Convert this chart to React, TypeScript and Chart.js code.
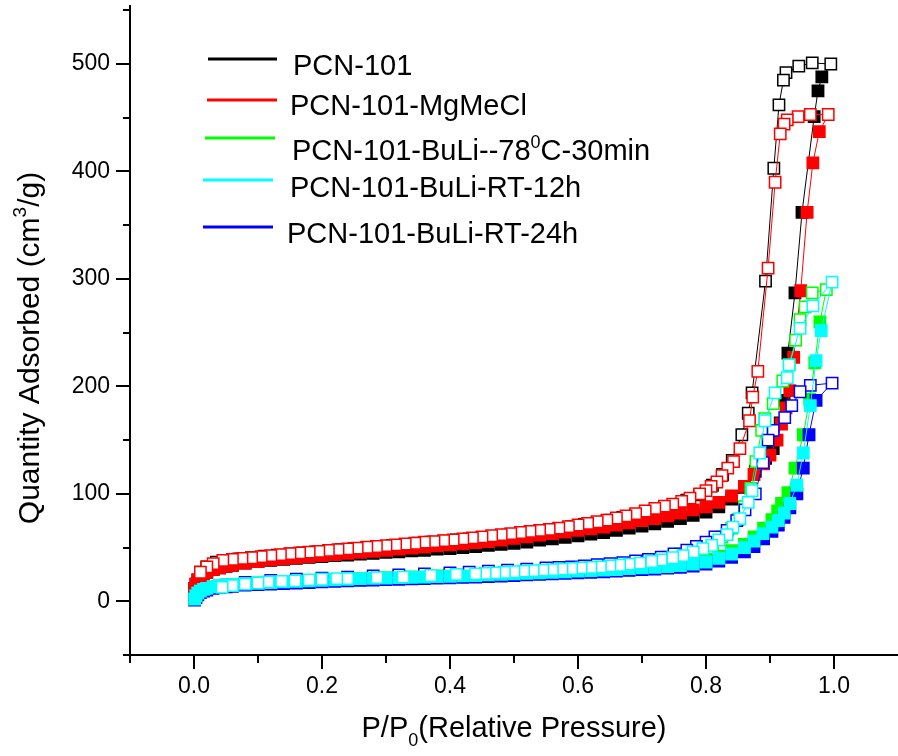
import React, { useEffect, useRef } from 'react';
import { Chart, registerables } from 'chart.js';

Chart.register(...registerables);

const FONT = "'Liberation Sans', Arial, sans-serif";

// ---------- series meta ----------
const SERIES_NAMES = [
  'PCN-101',
  'PCN-101-MgMeCl',
  'PCN-101-BuLi--78^{0}C-30min',
  'PCN-101-BuLi-RT-12h',
  'PCN-101-BuLi-RT-24h',
];
const SERIES_COLORS = ['#000000', '#ff0000', '#00ff00', '#00ffff', '#0000ff'];
// drawing order (lower = drawn on top)
const SERIES_ORDER = [4, 3, 2, 0, 1];

const X_TITLE = 'P/P_{0}(Relative Pressure)';
const Y_TITLE = 'Quantity Adsorbed (cm^{3}/g)';

// ---------- axes ----------
const X_TICKS = [-0.1, 0, 0.1, 0.2, 0.3, 0.4, 0.5, 0.6, 0.7, 0.8, 0.9, 1.0];
const X_LABELS = [0, 0.2, 0.4, 0.6, 0.8, 1.0];
const Y_TICKS = [-50, 0, 50, 100, 150, 200, 250, 300, 350, 400, 450, 500, 550];
const Y_LABELS = [0, 100, 200, 300, 400, 500];

// ---------- adsorption branch (shared low/mid pressure grid) ----------
const ADS_P = [
  0.001, 0.003, 0.006, 0.01, 0.015, 0.02, 0.03, 0.04, 0.05, 0.06,
  0.08, 0.10, 0.12, 0.14, 0.16, 0.18, 0.20, 0.22, 0.24, 0.26,
  0.28, 0.30, 0.32, 0.34, 0.36, 0.38, 0.40, 0.42, 0.44, 0.46,
  0.48, 0.50, 0.52, 0.54, 0.56, 0.58, 0.60, 0.62, 0.64, 0.66,
  0.68, 0.70, 0.72, 0.74, 0.76, 0.78, 0.80,
];

const PCN101_ADS_Q = [
  12, 16, 20, 23, 25.5, 27, 29.5, 31, 32.5, 33.5,
  35.5, 37, 38, 39, 40, 41, 41.5, 42.5, 43, 44,
  44.5, 45.5, 46, 47, 47.5, 48.5, 49, 50, 51, 52,
  53, 54, 55, 57, 58, 59.5, 61, 62.5, 64, 66,
  68, 70, 72, 74.5, 77, 80, 83,
];
const PCN101_ADS_TAIL_P = [0.82, 0.84, 0.86, 0.877, 0.893, 0.905, 0.916, 0.922, 0.928, 0.939, 0.95, 0.969, 0.975, 0.981];
const PCN101_ADS_TAIL_Q = [88, 95, 106, 121, 133, 142, 166, 187, 231, 287, 362, 451, 475, 488];
const PCN101_DES_P = [
  0.995, 0.966, 0.945, 0.925, 0.921, 0.914, 0.906, 0.893, 0.872, 0.866,
  0.856, 0.841, 0.826, 0.81, 0.79, 0.77, 0.75, 0.73, 0.71, 0.69,
  0.67, 0.65, 0.63, 0.61, 0.59, 0.57, 0.55, 0.53, 0.51, 0.49,
  0.47, 0.45, 0.43, 0.41, 0.39, 0.37, 0.35, 0.33, 0.31, 0.29,
  0.27, 0.25, 0.23, 0.21, 0.19, 0.17, 0.15, 0.13, 0.11, 0.09,
  0.07, 0.05, 0.035, 0.02, 0.01,
];
const PCN101_DES_Q = [
  500, 501, 498, 492, 485, 462, 403, 298, 194, 175,
  155, 131, 118, 108, 99, 94, 90, 86.5, 83.5, 80.5,
  78, 75.5, 73.5, 71.5, 69.5, 67.5, 66, 64.5, 63, 61.5,
  60.3, 59, 58, 57, 56, 55, 54, 53, 52, 51,
  50, 49, 48, 47, 46, 45, 44, 43, 42, 40.5,
  39.5, 38, 36.5, 32, 27,
];

const MGMECL_ADS_Q = [
  12, 16, 20, 23, 25.5, 27, 29.5, 31, 32.5, 33.5,
  35.5, 37, 38.5, 39.5, 40.5, 41.5, 42.5, 43.5, 44.5, 45.5,
  46.5, 47.5, 48.5, 49.5, 50.5, 51.5, 52.5, 53.5, 54.5, 55.5,
  57, 58.5, 60, 61.5, 63, 64.5, 66, 67.5, 69, 71,
  73, 75, 77, 79.5, 82, 85, 88,
];
const MGMECL_ADS_TAIL_P = [0.82, 0.84, 0.86, 0.875, 0.89, 0.90, 0.911, 0.918, 0.925, 0.931, 0.937, 0.948, 0.958, 0.967, 0.977];
const MGMECL_ADS_TAIL_Q = [92, 98, 107, 118, 128, 136, 150, 165, 180, 196, 227, 289, 362, 408, 437];
const MGMECL_DES_P = [
  0.991, 0.963, 0.944, 0.927, 0.922, 0.916, 0.908, 0.897, 0.881, 0.873,
  0.868, 0.853, 0.843, 0.834, 0.825, 0.817, 0.808, 0.80, 0.79, 0.775,
  0.762, 0.748, 0.735, 0.72, 0.705, 0.69, 0.675, 0.66, 0.645, 0.63,
  0.615, 0.60, 0.585, 0.57, 0.555, 0.54, 0.525, 0.51, 0.495, 0.48,
  0.465, 0.45, 0.435, 0.42, 0.405, 0.39, 0.375, 0.36, 0.345, 0.33,
  0.315, 0.30, 0.285, 0.27, 0.255, 0.24, 0.225, 0.21, 0.195, 0.18,
  0.165, 0.15, 0.135, 0.12, 0.105, 0.09, 0.075, 0.06, 0.045, 0.03,
  0.02, 0.01,
];
const MGMECL_DES_Q = [
  453, 453, 451, 448, 444, 435, 390, 310, 214, 190,
  168, 142, 130, 124, 117, 111, 107, 103, 100, 96,
  93, 90.5, 88.5, 86.5, 84, 81.5, 79.5, 77.5, 75.5, 74,
  72.5, 71, 69.5, 68, 67, 66, 65, 64, 63, 62,
  61, 60, 59, 58, 57, 56.5, 55.5, 55, 54, 53.3,
  52.5, 51.8, 51, 50.3, 49.5, 48.8, 48, 47.3, 46.5, 45.8,
  45, 44.3, 43.5, 42.5, 41.5, 40.5, 40, 39, 38, 35,
  32, 27,
];

const BULI78_ADS_Q = [
  2, 5, 7.5, 9.5, 11, 12, 13.5, 14.5, 15, 15.5,
  16.5, 17, 17.5, 18, 18.5, 19, 19.5, 20, 20.5, 21,
  21.5, 22, 22.3, 22.7, 23, 23.5, 24, 24.3, 24.7, 25.2,
  25.7, 26.2, 26.8, 27.4, 28, 28.6, 29.2, 29.8, 30.5, 31.2,
  32, 32.8, 33.6, 34.5, 35.5, 37, 39,
];
const BULI78_ADS_TAIL_P = [0.82, 0.84, 0.86, 0.875, 0.89, 0.903, 0.912, 0.918, 0.928, 0.939, 0.952, 0.962, 0.97, 0.978];
const BULI78_ADS_TAIL_Q = [42, 47, 53, 60, 68, 76, 84, 91, 101, 124, 155, 188, 222, 260];
const BULI78_DES_P = [
  0.988, 0.966, 0.955, 0.947, 0.94, 0.93, 0.92, 0.905, 0.892, 0.887,
  0.878, 0.87, 0.86, 0.85, 0.84, 0.825, 0.81, 0.795, 0.78, 0.76,
  0.74, 0.72, 0.70, 0.67, 0.64, 0.61, 0.58, 0.55, 0.52, 0.49,
  0.46, 0.43, 0.40, 0.36, 0.32, 0.28, 0.24, 0.20, 0.16, 0.12,
  0.08, 0.05,
];
const BULI78_DES_Q = [
  290, 287, 274, 262, 243, 220, 205, 184, 170, 159,
  130, 105, 88, 76, 68, 60, 54, 50, 47, 44,
  41, 38.5, 36.5, 35, 33.5, 32, 31, 30, 29, 28,
  27, 26, 25.5, 24.5, 23.5, 22.5, 21.5, 21, 19.5, 18.5,
  16.5, 14,
];

const RT12_ADS_Q = [
  2, 5, 7.5, 9.5, 11, 12, 13.5, 14.5, 15, 15.5,
  16.5, 17, 17.5, 18, 18.5, 19, 19.5, 20, 20.5, 21,
  21.3, 21.6, 22, 22.3, 22.6, 23, 23.3, 23.7, 24, 24.5,
  25, 25.5, 26, 26.5, 27, 27.5, 28, 28.5, 29, 29.5,
  30.3, 31, 31.6, 32.3, 33.2, 34.5, 36.5,
];
const RT12_ADS_TAIL_P = [0.82, 0.84, 0.86, 0.875, 0.889, 0.903, 0.913, 0.922, 0.931, 0.942, 0.952, 0.963, 0.972, 0.98];
const RT12_ADS_TAIL_Q = [40, 44, 50, 56, 63, 69, 75, 82, 91, 108, 138, 182, 224, 252];
const RT12_DES_P = [
  0.997, 0.967, 0.947, 0.93, 0.927, 0.908, 0.892, 0.884, 0.872, 0.866,
  0.853, 0.842, 0.833, 0.82, 0.809, 0.795, 0.78, 0.764, 0.748, 0.73,
  0.715, 0.697, 0.68, 0.665, 0.65, 0.635, 0.62, 0.605, 0.59, 0.575,
  0.56, 0.545, 0.53, 0.515, 0.50, 0.485, 0.47, 0.455, 0.44, 0.41,
  0.37, 0.327, 0.286, 0.24, 0.223, 0.20, 0.18, 0.158, 0.137, 0.116,
  0.10, 0.08, 0.06, 0.044,
];
const RT12_DES_Q = [
  297, 275, 254, 220, 208, 194, 168, 138, 103, 92,
  77, 69, 62, 57, 52, 49, 46, 42.5, 40.5, 38.5,
  37, 35.5, 34.5, 33.5, 33, 32, 31.5, 31, 30.5, 30,
  29.5, 29, 28.5, 28, 27.5, 27, 26.5, 26, 25.5, 25,
  24, 22.5, 22, 21, 21, 20.5, 20, 19, 18.5, 18,
  17, 16, 14.5, 13,
];

const RT24_ADS_Q = [
  1, 3.5, 6, 8, 9.5, 10.5, 12, 13, 13.5, 14,
  15, 15.5, 16, 16.5, 17, 17.5, 18, 18.5, 19, 19.5,
  19.8, 20.1, 20.5, 20.8, 21.1, 21.5, 21.8, 22.2, 22.5, 23,
  23.5, 24, 24.5, 25, 25.5, 26, 26.5, 27, 27.5, 28,
  28.7, 29.4, 30, 30.8, 31.6, 32.8, 34.5,
];
const RT24_ADS_TAIL_P = [0.82, 0.84, 0.86, 0.875, 0.89, 0.903, 0.913, 0.922, 0.931, 0.942, 0.952, 0.961, 0.972];
const RT24_ADS_TAIL_Q = [37.5, 41, 46, 51, 58, 65, 71, 78, 87, 100, 124, 155, 187];
const RT24_DES_P = [
  0.997, 0.963, 0.947, 0.934, 0.923, 0.905, 0.897, 0.889, 0.877, 0.861,
  0.848, 0.833, 0.814, 0.80, 0.785, 0.77, 0.75, 0.73, 0.71, 0.69,
  0.67, 0.65, 0.63, 0.61, 0.59, 0.57, 0.55, 0.52, 0.49, 0.46,
  0.43, 0.40, 0.36, 0.32, 0.28, 0.24, 0.20, 0.16, 0.12, 0.08,
  0.05,
];
const RT24_DES_Q = [
  203, 201, 195, 182, 171, 159, 150, 129, 100, 85,
  75, 66, 60, 55, 51, 47.5, 44, 41, 39, 37.5,
  36, 35, 34, 33, 32, 31.5, 31, 30, 29, 28,
  27, 26.5, 25.5, 24.5, 23.5, 22.5, 21.5, 20.5, 19.5, 17.5,
  15,
];

const SERIES_DATA = [
  { adsQ: PCN101_ADS_Q, tailP: PCN101_ADS_TAIL_P, tailQ: PCN101_ADS_TAIL_Q, desP: PCN101_DES_P, desQ: PCN101_DES_Q },
  { adsQ: MGMECL_ADS_Q, tailP: MGMECL_ADS_TAIL_P, tailQ: MGMECL_ADS_TAIL_Q, desP: MGMECL_DES_P, desQ: MGMECL_DES_Q },
  { adsQ: BULI78_ADS_Q, tailP: BULI78_ADS_TAIL_P, tailQ: BULI78_ADS_TAIL_Q, desP: BULI78_DES_P, desQ: BULI78_DES_Q },
  { adsQ: RT12_ADS_Q, tailP: RT12_ADS_TAIL_P, tailQ: RT12_ADS_TAIL_Q, desP: RT12_DES_P, desQ: RT12_DES_Q },
  { adsQ: RT24_ADS_Q, tailP: RT24_ADS_TAIL_P, tailQ: RT24_ADS_TAIL_Q, desP: RT24_DES_P, desQ: RT24_DES_Q },
];

// ---------- rich text helpers ----------
type Seg = { t: string; k: 'n' | 'sup' | 'sub' };
function parseRich(text: string): Seg[] {
  const segs: Seg[] = [];
  const re = /\^\{([^}]*)\}|_\{([^}]*)\}/g;
  let last = 0;
  let m: RegExpExecArray | null;
  while ((m = re.exec(text))) {
    if (m.index > last) segs.push({ t: text.slice(last, m.index), k: 'n' });
    if (m[1] !== undefined) segs.push({ t: m[1], k: 'sup' });
    else segs.push({ t: m[2], k: 'sub' });
    last = re.lastIndex;
  }
  if (last < text.length) segs.push({ t: text.slice(last), k: 'n' });
  return segs;
}
function drawRich(ctx: CanvasRenderingContext2D, text: string, x: number, y: number, size: number, align: 'left' | 'center') {
  const segs = parseRich(text);
  const fontFor = (k: string) => `${k === 'n' ? size : Math.round(size * 0.62)}px ${FONT}`;
  let total = 0;
  const widths = segs.map((s) => {
    ctx.font = fontFor(s.k);
    const w = ctx.measureText(s.t).width;
    total += w;
    return w;
  });
  let cx = align === 'center' ? x - total / 2 : x;
  ctx.textBaseline = 'alphabetic';
  ctx.textAlign = 'left';
  segs.forEach((s, i) => {
    ctx.font = fontFor(s.k);
    const dy = s.k === 'sup' ? -size * 0.42 : s.k === 'sub' ? size * 0.32 : 0;
    ctx.fillText(s.t, cx, y + dy);
    cx += widths[i];
  });
}

const isIn = (v: number, arr: number[]) => arr.some((a) => Math.abs(a - v) < 1e-6);

const annotPlugin = {
  id: 'annot',
  afterDraw(chart: any) {
    const ctx: CanvasRenderingContext2D = chart.ctx;
    const ca = chart.chartArea;
    const xs = chart.scales.x;
    const ys = chart.scales.y;
    ctx.save();
    // minor ticks
    ctx.strokeStyle = '#000';
    ctx.lineWidth = 2;
    ctx.beginPath();
    X_TICKS.forEach((v) => {
      if (!isIn(v, X_LABELS)) {
        const px = Math.round(xs.getPixelForValue(v));
        ctx.moveTo(px, ca.bottom);
        ctx.lineTo(px, ca.bottom + 8);
      }
    });
    Y_TICKS.forEach((v) => {
      if (!isIn(v, Y_LABELS)) {
        const py = Math.round(ys.getPixelForValue(v));
        ctx.moveTo(ca.left - 7, py);
        ctx.lineTo(ca.left, py);
      }
    });
    ctx.stroke();

    ctx.fillStyle = '#000';
    // axis titles
    drawRich(ctx, X_TITLE, (ca.left + ca.right) / 2, 737, 29, 'center');
    ctx.save();
    ctx.translate(39, 348);
    ctx.rotate(-Math.PI / 2);
    drawRich(ctx, Y_TITLE, 0, 0, 30, 'center');
    ctx.restore();

    // legend
    const lineX0 = [208, 207, 205, 203, 203];
    const lineX1 = [277, 277, 275, 273, 273];
    const lineY = [59, 100, 138, 180, 227];
    const textX = [293, 290, 292, 290, 287];
    const textY = [75, 115, 160, 197, 243];
    SERIES_NAMES.forEach((name, i) => {
      ctx.strokeStyle = SERIES_COLORS[i];
      ctx.lineWidth = 3;
      ctx.beginPath();
      ctx.moveTo(lineX0[i], lineY[i]);
      ctx.lineTo(lineX1[i], lineY[i]);
      ctx.stroke();
      ctx.fillStyle = '#000';
      drawRich(ctx, name, textX[i], textY[i], 29, 'left');
    });
    ctx.restore();
  },
};

const zeroPad = (sc: any) => {
  sc.paddingTop = 0;
  sc.paddingBottom = 0;
  sc.paddingLeft = 0;
  sc.paddingRight = 0;
};

export default function App() {
  const ref = useRef<HTMLCanvasElement | null>(null);
  useEffect(() => {
    if (!ref.current) return;
    const datasets = SERIES_NAMES.map((name, i) => {
      const s = SERIES_DATA[i];
      const pts: { x: number; y: number }[] = [];
      const fills: string[] = [];
      ADS_P.forEach((p, j) => { pts.push({ x: p, y: s.adsQ[j] }); fills.push(SERIES_COLORS[i]); });
      s.tailP.forEach((p, j) => { pts.push({ x: p, y: s.tailQ[j] }); fills.push(SERIES_COLORS[i]); });
      s.desP.forEach((p, j) => { pts.push({ x: p, y: s.desQ[j] }); fills.push('#ffffff'); });
      return {
        label: name,
        data: pts,
        showLine: true,
        borderColor: SERIES_COLORS[i],
        borderWidth: 1,
        backgroundColor: SERIES_COLORS[i],
        pointStyle: 'rect',
        pointRadius: 8,
        pointBorderWidth: 1.5,
        pointBorderColor: SERIES_COLORS[i],
        pointBackgroundColor: fills,
        tension: 0,
        order: SERIES_ORDER[i],
      };
    });
    const chart = new Chart(ref.current, {
      type: 'scatter',
      data: { datasets: datasets as any },
      options: {
        responsive: false,
        devicePixelRatio: 1,
        animation: false,
        events: [],
        layout: { autoPadding: false, padding: { top: 6, right: 0, left: 0, bottom: 0 } },
        plugins: { legend: { display: false }, tooltip: { enabled: false } },
        scales: {
          x: {
            type: 'linear',
            min: -0.1,
            max: 1.1,
            afterBuildTicks: (sc: any) => { sc.ticks = X_TICKS.map((v) => ({ value: v })); },
            afterFit: (sc: any) => { sc.height = 101; zeroPad(sc); },
            ticks: {
              autoSkip: false,
              maxRotation: 0,
              color: '#000',
              padding: 4,
              font: { family: FONT, size: 23 },
              callback: (v: any) => (isIn(Number(v), X_LABELS) ? Number(v).toFixed(1) : ''),
            },
            grid: {
              drawOnChartArea: false,
              drawTicks: true,
              tickLength: 14,
              lineWidth: 2,
              tickWidth: 2,
              tickColor: (c: any) => (c.tick && isIn(c.tick.value, X_LABELS) ? '#000' : 'rgba(0,0,0,0)'),
            },
            border: { display: true, color: '#000', width: 2 },
          },
          y: {
            type: 'linear',
            min: -50,
            max: 554,
            afterBuildTicks: (sc: any) => { sc.ticks = Y_TICKS.map((v) => ({ value: v })); },
            afterFit: (sc: any) => { sc.width = 130; zeroPad(sc); },
            ticks: {
              autoSkip: false,
              color: '#000',
              padding: 6,
              font: { family: FONT, size: 23 },
              callback: (v: any) => (isIn(Number(v), Y_LABELS) ? String(v) : ''),
            },
            grid: {
              drawOnChartArea: false,
              drawTicks: true,
              tickLength: 14,
              lineWidth: 2,
              tickWidth: 2,
              tickColor: (c: any) => (c.tick && isIn(c.tick.value, Y_LABELS) ? '#000' : 'rgba(0,0,0,0)'),
            },
            border: { display: true, color: '#000', width: 2 },
          },
        },
      },
      plugins: [annotPlugin],
    });
    return () => chart.destroy();
  }, []);
  return (
    <div style={{ position: 'fixed', left: 0, top: 0, width: 898, height: 756, background: '#fff' }}>
      <canvas ref={ref} width={898} height={756} style={{ display: 'block' }} />
    </div>
  );
}
